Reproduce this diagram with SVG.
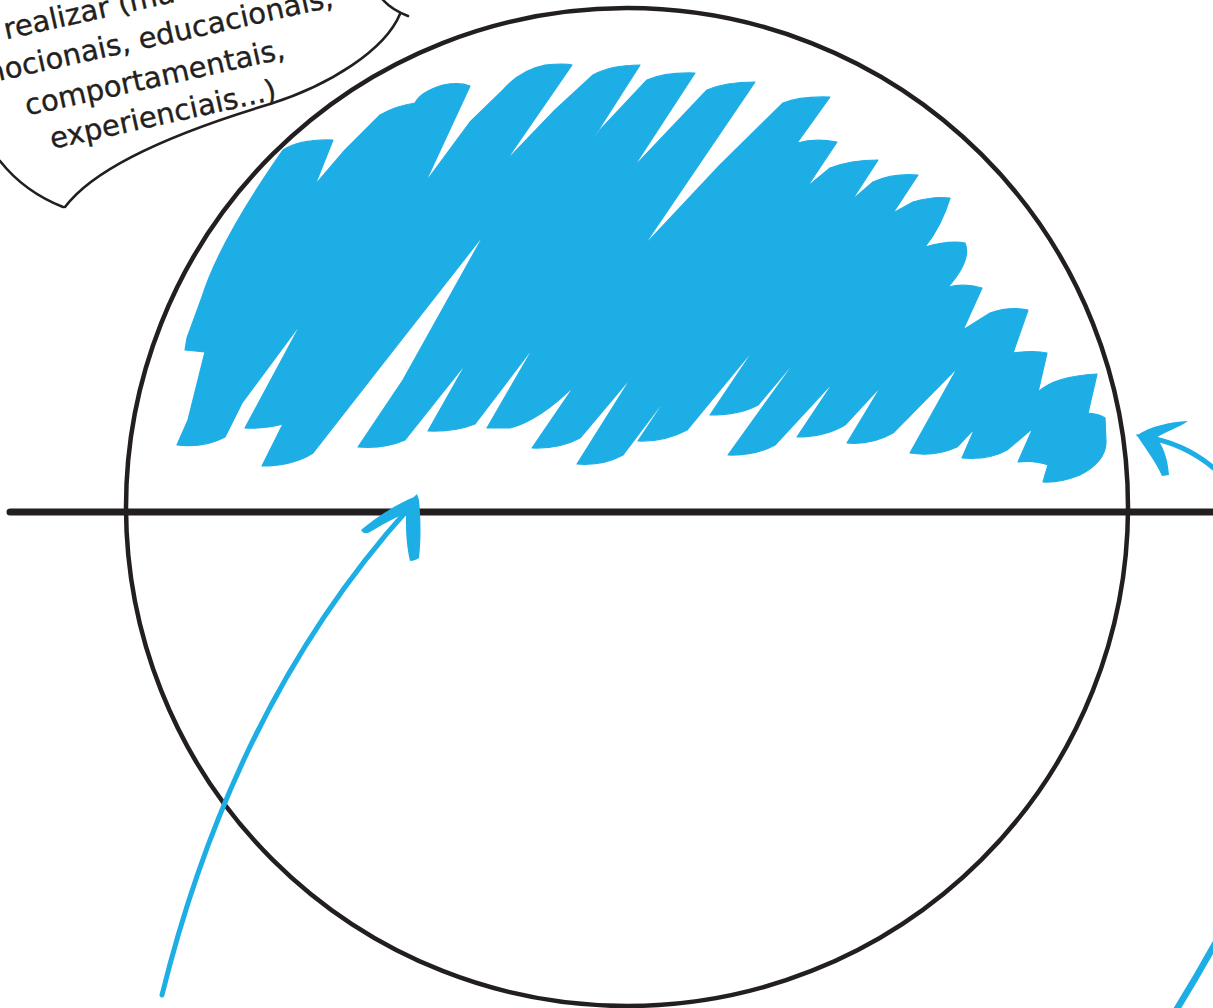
<svg xmlns="http://www.w3.org/2000/svg" width="1213" height="1008" viewBox="0 0 1213 1008">
  <style>
    .ink { fill: none; stroke: #231f20; stroke-linecap: round; stroke-linejoin: round; }
    .blue { fill: #1eaee6; }
    .bstroke { fill: none; stroke: #1eaee6; stroke-linecap: round; stroke-linejoin: round; }
    .lbl { font-family: "DejaVu Sans", "Liberation Sans", sans-serif; font-size: 29px; fill: #231f20; stroke: #231f20; stroke-width: 0.35; }
  </style>
  <rect width="1213" height="1008" fill="#ffffff"/>

  <g id="circle">
    <ellipse class="ink" cx="627" cy="507" rx="501" ry="499" stroke-width="4.5"/>
  </g>

  <g id="scribble">
    <path class="blue" stroke="#1eaee6" stroke-width="1.2" stroke-linejoin="round" d="M 283,150 Q 300,139 333,140 L 315,185
      L 345,150 L 380,115 Q 395,106 415,103 Q 420,92 443,85 Q 460,82 470,86 L 425,183
      L 470,122 L 503,90 Q 520,70 545,65 Q 565,63 572,65 L 505,162
      L 555,110 L 593,75 Q 610,65 640,65 L 562,187
      L 600,130 L 647,80 Q 665,72 695,73 L 633,168
      L 707,90 Q 725,82 755,82 L 643,247
      L 720,165 L 783,103 Q 800,96 830,97 L 797,143
      Q 815,138 837,142 L 807,187
      L 830,168 Q 850,160 878,160 L 852,200
      L 873,182 Q 893,173 918,175 L 893,213
      L 913,202 Q 933,196 950,198 Q 942,225 925,247
      Q 950,240 965,243 Q 972,260 948,287
      Q 965,283 982,288 L 963,330
      L 990,313 Q 1010,306 1028,310 L 1013,353
      Q 1035,350 1047,353 L 1038,392
      Q 1055,376 1097,374 L 1088,413
      Q 1100,414 1105,418 L 1106,443 Q 1105,462 1080,475 Q 1060,483 1043,482 L 1048,465 Q 1035,460 1018,462
      L 1033,428 L 1007,450 Q 990,460 962,458
      L 975,428 L 957,447 Q 935,457 910,453
      L 958,367 L 893,433 Q 872,445 847,443
      L 882,385 L 845,425 Q 825,437 797,437
      L 835,380 L 775,445 Q 755,456 728,455
      L 800,355 L 758,405 Q 740,415 710,415
      L 757,345 L 687,430 Q 665,442 638,441
      L 672,390 L 623,455 Q 603,466 577,464
      L 633,375 L 580,438 Q 560,449 532,448
      L 575,385 Q 540,420 510,428 L 487,428
      L 535,345 L 475,424 Q 455,432 428,431
      L 467,362 L 405,440 Q 385,449 358,447
      L 403,380 L 485,233 L 370,380 L 313,453 Q 293,466 262,466
      L 283,424 Q 265,429 245,428
      L 302,322 L 242,403 L 225,437 Q 205,448 177,445
      L 188,420 L 205,352 L 185,350 L 187,338 L 202,297 Q 220,240 283,150 Z"/>
  </g>

  <g id="axis">
    <line class="ink" x1="10" y1="512" x2="1213" y2="512" stroke-width="7"/>
  </g>

  <g id="bubble">
    <path class="ink" stroke-width="2.6" d="M 400,14 C 385,50 330,85 270,104 C 200,125 100,160 65,207"/>
    <path class="ink" stroke-width="2.6" d="M 0,161 C 15,180 35,196 63,207"/>
    <path class="ink" stroke-width="2.6" d="M 383,0 Q 392,10 408,16"/>
    <g transform="translate(165,124) rotate(-12.5)">
      <text class="lbl" x="-137" y="-117">realizar (ma</text>
      <text class="lbl" x="0" y="-78" text-anchor="middle">emocionais, educacionais,</text>
      <text class="lbl" x="0" y="-38" text-anchor="middle">comportamentais,</text>
      <text class="lbl" x="0" y="0" text-anchor="middle">experienciais...)</text>
    </g>
  </g>

  <g id="connectors">
    <g id="arrow-left">
      <path class="bstroke" stroke-width="5" d="M 162,995 Q 235,700 410,507"/>
      <path class="blue" d="M 414,497 C 395,505 375,518 361,530 C 363,534 367,534 370,532 C 385,523 400,515 410,512 Z"/>
      <path class="blue" d="M 417,494 C 410,500 405,510 406,525 C 406,540 408,552 410,561 C 413,561 416,560 419,558 C 421,540 421,520 419,500 Z"/>
    </g>
    <g id="arrow-right">
      <path class="bstroke" stroke-width="5" d="M 1145,437 Q 1185,443 1216,470"/>
      <path class="blue" d="M 1136,436 C 1150,426 1170,422 1188,421 C 1180,427 1165,432 1152,440 Z"/>
      <path class="blue" d="M 1136,434 C 1145,448 1156,462 1162,476 L 1169,475 C 1168,462 1165,450 1158,440 Z"/>
    </g>
    <g id="arrow-bottom-right">
      <path class="bstroke" stroke-width="6.5" d="M 1216,942 Q 1196,978 1175,1012"/>
    </g>
  </g>
</svg>
